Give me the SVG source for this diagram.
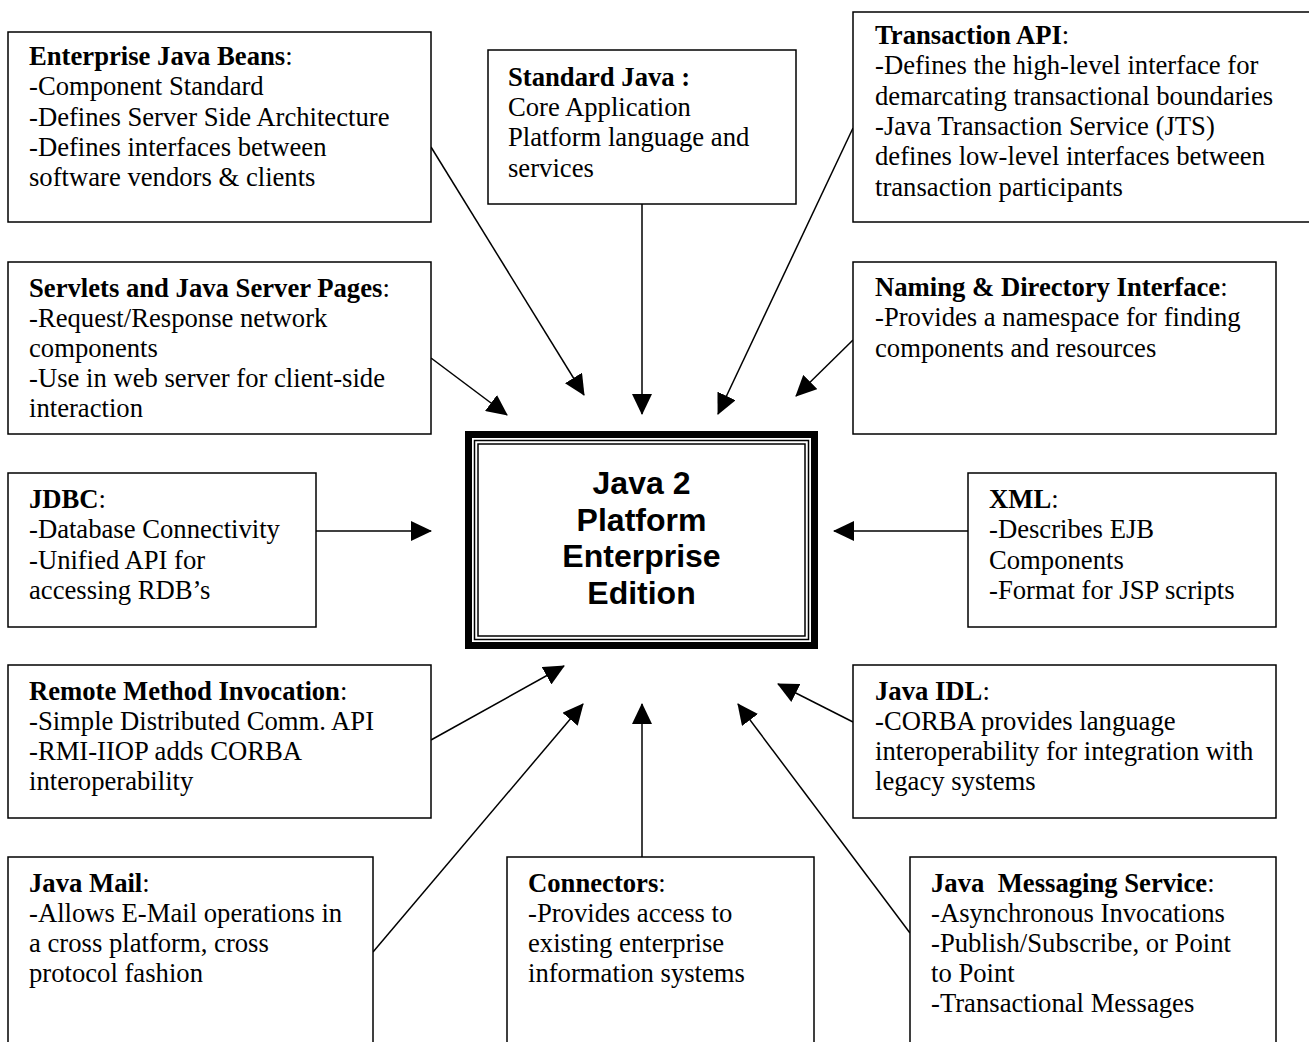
<svg xmlns="http://www.w3.org/2000/svg" width="1309" height="1042" viewBox="0 0 1309 1042">
<style>
.box{fill:#fff;stroke:#000;stroke-width:1.5}
.t{font-family:"Liberation Serif","Times New Roman",serif;font-size:26.67px;fill:#000}
.b{font-weight:bold}
.edge{stroke:#000;stroke-width:1.5;fill:none;marker-end:url(#ah)}
.title{font-family:"Liberation Sans",Arial,sans-serif;font-size:32px;font-weight:bold;fill:#000;text-anchor:middle}
</style>
<defs>
<marker id="ah" markerUnits="userSpaceOnUse" markerWidth="21" markerHeight="20" viewBox="0 0 21 20" refX="20" refY="10" orient="auto">
<path d="M0,0 L21,10 L0,20 Z" fill="#000"/>
</marker>
</defs>
<rect width="1309" height="1042" fill="#fff"/>

<g id="connectors">
<line class="edge" x1="431" y1="147" x2="584" y2="395"/>
<line class="edge" x1="642" y1="204" x2="642" y2="414"/>
<line class="edge" x1="853" y1="128" x2="718" y2="414"/>
<line class="edge" x1="431" y1="358" x2="507" y2="415"/>
<line class="edge" x1="853" y1="340" x2="796" y2="396"/>
<line class="edge" x1="316" y1="531" x2="431" y2="531"/>
<line class="edge" x1="968" y1="531" x2="834" y2="531"/>
<line class="edge" x1="431" y1="740" x2="564" y2="666"/>
<line class="edge" x1="853" y1="722" x2="778" y2="684"/>
<line class="edge" x1="373" y1="952" x2="583" y2="704"/>
<line class="edge" x1="642" y1="857" x2="642" y2="704"/>
<line class="edge" x1="910" y1="933" x2="738" y2="704"/>
</g>

<g id="j2ee">
<rect x="468.5" y="434.5" width="346" height="211" fill="#fff" stroke="#000" stroke-width="7"/>
<rect x="474.5" y="440.5" width="334" height="199" fill="none" stroke="#000" stroke-width="1.5"/>
<rect x="478" y="444" width="327" height="192" fill="none" stroke="#000" stroke-width="1.5"/>
<text class="title"><tspan x="641.5" y="494">Java 2</tspan><tspan x="641.5" y="530.7">Platform</tspan><tspan x="641.5" y="567.3">Enterprise</tspan><tspan x="641.5" y="604">Edition</tspan></text>
</g>

<g id="ejb">
<rect class="box" x="8" y="32" width="423" height="190"/>
<text class="t"><tspan x="29" y="65"><tspan class="b">Enterprise Java Beans</tspan>:</tspan><tspan x="29" y="95.3">-Component Standard</tspan><tspan x="29" y="125.7">-Defines Server Side Architecture</tspan><tspan x="29" y="156">-Defines interfaces between</tspan><tspan x="29" y="186.3">software vendors &amp; clients</tspan></text>
</g>

<g id="standard-java">
<rect class="box" x="488" y="50" width="308" height="154"/>
<text class="t"><tspan x="508" y="85.7" class="b">Standard Java :</tspan><tspan x="508" y="116">Core Application</tspan><tspan x="508" y="146.3">Platform language and</tspan><tspan x="508" y="176.7">services</tspan></text>
</g>

<g id="transaction-api">
<rect class="box" x="853" y="12" width="470" height="210"/>
<text class="t"><tspan x="875" y="44"><tspan class="b">Transaction API</tspan>:</tspan><tspan x="875" y="74.3">-Defines the high-level interface for</tspan><tspan x="875" y="104.7">demarcating transactional boundaries</tspan><tspan x="875" y="135">-Java Transaction Service (JTS)</tspan><tspan x="875" y="165.3">defines low-level interfaces between</tspan><tspan x="875" y="195.7">transaction participants</tspan></text>
</g>

<g id="servlets-jsp">
<rect class="box" x="8" y="262" width="423" height="172"/>
<text class="t"><tspan x="29" y="296.7"><tspan class="b">Servlets and Java Server Pages</tspan>:</tspan><tspan x="29" y="326.7">-Request/Response network</tspan><tspan x="29" y="356.7">components</tspan><tspan x="29" y="386.7">-Use in web server for client-side</tspan><tspan x="29" y="416.7">interaction</tspan></text>
</g>

<g id="naming-directory">
<rect class="box" x="853" y="262" width="423" height="172"/>
<text class="t"><tspan x="875" y="296"><tspan class="b">Naming &amp; Directory Interface</tspan>:</tspan><tspan x="875" y="326.3">-Provides a namespace for finding</tspan><tspan x="875" y="356.7">components and resources</tspan></text>
</g>

<g id="jdbc">
<rect class="box" x="8" y="473" width="308" height="154"/>
<text class="t"><tspan x="29" y="508"><tspan class="b">JDBC</tspan>:</tspan><tspan x="29" y="538.3">-Database Connectivity</tspan><tspan x="29" y="568.7">-Unified API for</tspan><tspan x="29" y="599">accessing RDB’s</tspan></text>
</g>

<g id="xml">
<rect class="box" x="968" y="473" width="308" height="154"/>
<text class="t"><tspan x="989" y="508"><tspan class="b">XML</tspan>:</tspan><tspan x="989" y="538.3">-Describes EJB</tspan><tspan x="989" y="568.7">Components</tspan><tspan x="989" y="599">-Format for JSP scripts</tspan></text>
</g>

<g id="rmi">
<rect class="box" x="8" y="665" width="423" height="153"/>
<text class="t"><tspan x="29" y="700"><tspan class="b">Remote Method Invocation</tspan>:</tspan><tspan x="29" y="730">-Simple Distributed Comm. API</tspan><tspan x="29" y="760">-RMI-IIOP adds CORBA</tspan><tspan x="29" y="790">interoperability</tspan></text>
</g>

<g id="java-idl">
<rect class="box" x="853" y="665" width="423" height="153"/>
<text class="t"><tspan x="875" y="700"><tspan class="b">Java IDL</tspan>:</tspan><tspan x="875" y="730">-CORBA provides language</tspan><tspan x="875" y="760">interoperability for integration with</tspan><tspan x="875" y="790">legacy systems</tspan></text>
</g>

<g id="java-mail">
<rect class="box" x="8" y="857" width="365" height="200"/>
<text class="t"><tspan x="29" y="891.7"><tspan class="b">Java Mail</tspan>:</tspan><tspan x="29" y="921.7">-Allows E-Mail operations in</tspan><tspan x="29" y="951.7">a cross platform, cross</tspan><tspan x="29" y="982">protocol fashion</tspan></text>
</g>

<g id="connectors-box">
<rect class="box" x="507" y="857" width="307" height="200"/>
<text class="t"><tspan x="528" y="891.7"><tspan class="b">Connectors</tspan>:</tspan><tspan x="528" y="921.7">-Provides access to</tspan><tspan x="528" y="951.7">existing enterprise</tspan><tspan x="528" y="982">information systems</tspan></text>
</g>

<g id="jms">
<rect class="box" x="910" y="857" width="366" height="200"/>
<text class="t"><tspan x="931" y="891.7"><tspan class="b">Java&#160; Messaging Service</tspan>:</tspan><tspan x="931" y="921.7">-Asynchronous Invocations</tspan><tspan x="931" y="951.7">-Publish/Subscribe, or Point</tspan><tspan x="931" y="982">to Point</tspan><tspan x="931" y="1012.3">-Transactional Messages</tspan></text>
</g>
</svg>
